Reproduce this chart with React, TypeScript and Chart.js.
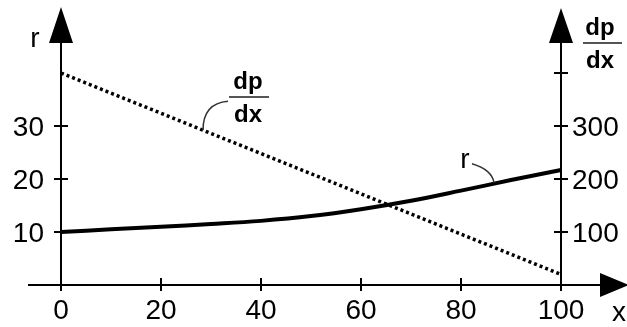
import React, { useEffect, useRef } from "react";
import { Chart, registerables } from "chart.js";

Chart.register(...registerables);

// Data
const xValues = [0, 10, 20, 30, 40, 50, 60, 70, 80, 90, 100];
const rValues = [10.0, 10.5, 11.0, 11.5, 12.1, 13.0, 14.3, 15.9, 17.8, 19.8, 21.7];
const dpdxX = [0, 100];
const dpdxValues = [400, 20];

const xTicks = [0, 20, 40, 60, 80, 100];
const rTicks = [10, 20, 30];
const dpTicks = [100, 200, 300, 400];
const dpTickLabels = ["100", "200", "300", ""];

const FONT = '"Liberation Sans", Arial, sans-serif';

const axesPlugin = {
  id: "sketchAxes",
  afterDatasetsDraw(chart: any) {
    const ctx = chart.ctx as CanvasRenderingContext2D;
    const xs = chart.scales.x;
    const ys = chart.scales.y;
    const y1 = chart.scales.y1;
    const axisY = ys.getPixelForValue(0);
    const leftX = xs.getPixelForValue(0);
    const rightX = xs.getPixelForValue(100);

    ctx.save();
    ctx.strokeStyle = "#000";
    ctx.fillStyle = "#000";
    ctx.lineWidth = 2;
    ctx.lineCap = "butt";

    // x axis line
    ctx.beginPath();
    ctx.moveTo(leftX - 33, axisY);
    ctx.lineTo(rightX + 40, axisY);
    ctx.stroke();
    // x arrow
    ctx.beginPath();
    ctx.moveTo(rightX + 39, axisY - 12);
    ctx.lineTo(rightX + 68, axisY);
    ctx.lineTo(rightX + 39, axisY + 12);
    ctx.closePath();
    ctx.fill();

    // left y axis
    ctx.beginPath();
    ctx.moveTo(leftX, axisY + 6);
    ctx.lineTo(leftX, 42);
    ctx.stroke();
    ctx.beginPath();
    ctx.moveTo(leftX - 12, 43);
    ctx.lineTo(leftX, 7);
    ctx.lineTo(leftX + 12, 43);
    ctx.closePath();
    ctx.fill();

    // right y axis
    ctx.beginPath();
    ctx.moveTo(rightX, axisY + 6);
    ctx.lineTo(rightX, 42);
    ctx.stroke();
    ctx.beginPath();
    ctx.moveTo(rightX - 12, 43);
    ctx.lineTo(rightX, 8);
    ctx.lineTo(rightX + 12, 43);
    ctx.closePath();
    ctx.fill();

    // x ticks
    ctx.font = `28px ${FONT}`;
    ctx.textAlign = "center";
    ctx.textBaseline = "alphabetic";
    xTicks.forEach((v) => {
      const px = xs.getPixelForValue(v);
      ctx.beginPath();
      ctx.moveTo(px, axisY - 7);
      ctx.lineTo(px, axisY + 6);
      ctx.stroke();
      ctx.fillText(String(v), px, axisY + 34);
    });

    // left ticks
    ctx.textAlign = "right";
    rTicks.forEach((v) => {
      const py = ys.getPixelForValue(v);
      ctx.beginPath();
      ctx.moveTo(leftX - 7, py);
      ctx.lineTo(leftX + 7, py);
      ctx.stroke();
      ctx.fillText(String(v), leftX - 17, py + 10);
    });

    // right ticks
    ctx.textAlign = "left";
    dpTicks.forEach((v, i) => {
      const py = y1.getPixelForValue(v);
      ctx.beginPath();
      ctx.moveTo(rightX - 7, py);
      ctx.lineTo(rightX + 7, py);
      ctx.stroke();
      if (dpTickLabels[i]) ctx.fillText(dpTickLabels[i], rightX + 11, py + 10);
    });

    // axis titles
    ctx.textAlign = "center";
    ctx.fillText("r", leftX - 26, 47);
    ctx.fillText("x", rightX + 58, 321);

    const drawFrac = (cx: number, topBase: number, botBase: number, barY: number, barL: number, barR: number) => {
      ctx.font = `bold 24px ${FONT}`;
      ctx.textAlign = "center";
      ctx.fillStyle = "#000";
      ctx.fillText("dp", cx, topBase);
      ctx.fillText("dx", cx, botBase);
      ctx.strokeStyle = "#555";
      ctx.lineWidth = 2;
      ctx.beginPath();
      ctx.moveTo(barL, barY);
      ctx.lineTo(barR, barY);
      ctx.stroke();
    };

    // right axis title
    drawFrac(rightX + 39, 35, 68, 43, rightX + 22, rightX + 61);

    // dp/dx annotation on dotted line
    const ax = xs.getPixelForValue(28.4);
    const ay = y1.getPixelForValue(292);
    drawFrac(ax + 45, 89, 122, 97, ax + 26, ax + 66);
    ctx.strokeStyle = "#333";
    ctx.lineWidth = 1.5;
    ctx.beginPath();
    ctx.moveTo(ax + 25, ay - 29);
    ctx.quadraticCurveTo(ax, ay - 27, ax, ay);
    ctx.stroke();

    // r annotation on solid line
    const bx = xs.getPixelForValue(86.6);
    const by = ys.getPixelForValue(19.1);
    ctx.font = `28px ${FONT}`;
    ctx.fillStyle = "#000";
    ctx.textAlign = "center";
    ctx.fillText("r", bx - 29, by - 16);
    ctx.strokeStyle = "#333";
    ctx.lineWidth = 1.5;
    ctx.beginPath();
    ctx.moveTo(bx - 22, by - 20);
    ctx.quadraticCurveTo(bx - 2, by - 14, bx, by - 1);
    ctx.stroke();

    ctx.restore();
  },
};

export default function App() {
  const canvasRef = useRef<HTMLCanvasElement | null>(null);

  useEffect(() => {
    if (!canvasRef.current) return;
    const chart = new Chart(canvasRef.current, {
      type: "line",
      data: {
        datasets: [
          {
            label: "r",
            data: xValues.map((x, i) => ({ x, y: rValues[i] })),
            yAxisID: "y",
            borderColor: "#000",
            borderWidth: 4,
            pointRadius: 0,
            tension: 0.4,
            fill: false,
            clip: false as any,
          },
          {
            label: "dp/dx",
            data: dpdxX.map((x, i) => ({ x, y: dpdxValues[i] })),
            yAxisID: "y1",
            borderColor: "#000",
            borderWidth: 3.5,
            borderDash: [3, 3],
            pointRadius: 0,
            fill: false,
            clip: false as any,
          },
        ],
      },
      options: {
        responsive: false,
        maintainAspectRatio: false,
        devicePixelRatio: 1,
        animation: false,
        layout: { padding: { left: 61, right: 66, top: 20, bottom: 42 } },
        plugins: { legend: { display: false }, tooltip: { enabled: false } },
        scales: {
          x: { type: "linear", min: 0, max: 100, display: false },
          y: { type: "linear", min: 0, max: 50, display: false },
          y1: { type: "linear", min: 0, max: 500, display: false, position: "right" },
        },
      },
      plugins: [axesPlugin],
    });
    return () => chart.destroy();
  }, []);

  return (
    <div style={{ position: "absolute", left: 0, top: 0, width: 627, height: 327, background: "#fff" }}>
      <canvas ref={canvasRef} width={627} height={327} style={{ display: "block" }} />
    </div>
  );
}
